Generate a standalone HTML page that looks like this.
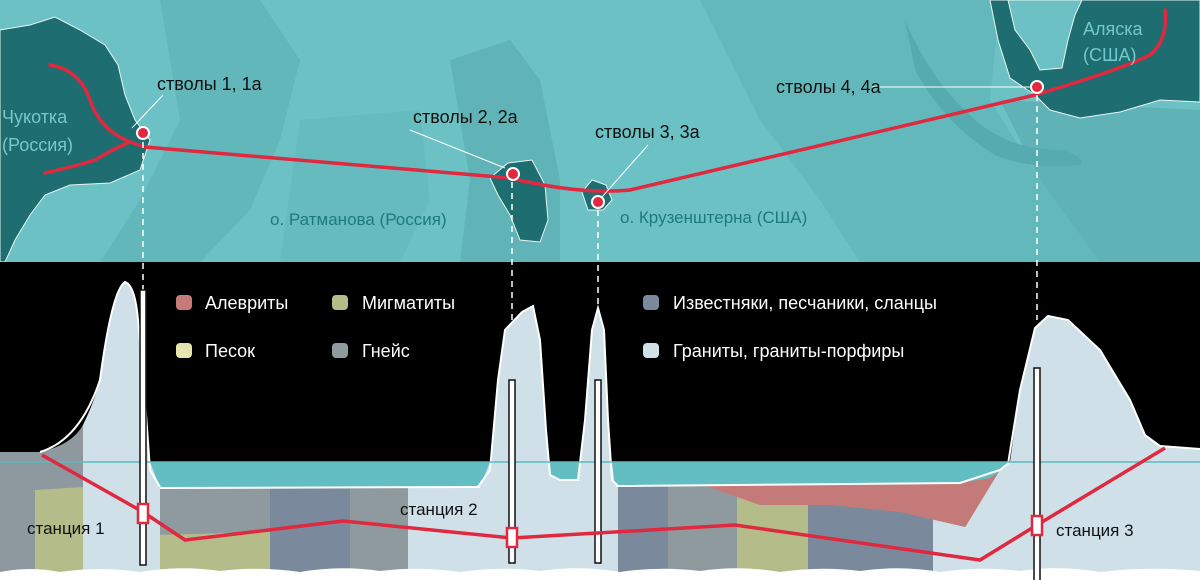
<!DOCTYPE html>
<html><head><meta charset="utf-8"><style>
html,body{margin:0;padding:0;background:#000;}
svg{display:block;font-family:"Liberation Sans","DejaVu Sans",sans-serif;}
</style></head><body>
<svg width="1200" height="580" viewBox="0 0 1200 580" xmlns="http://www.w3.org/2000/svg">
<!-- MAP -->
<rect x="0" y="0" width="1200" height="262" fill="#6cc1c5"/>
<path d="M160 0 L260 0 L300 60 L280 140 L250 210 L200 262 L100 262 L140 200 L180 120 Z" fill="#62b7bb"/>
<path d="M700 0 L1000 0 L990 100 L1040 180 L1100 262 L860 262 L820 200 L760 120 L720 40 Z" fill="#63b8bc"/>
<path d="M1000 100 L1200 110 L1200 262 L1100 262 L1040 180 Z" fill="#5fb2b6"/>
<path d="M450 60 L510 40 L540 80 L560 180 L560 262 L460 262 L470 180 Z" fill="#60b3b7"/>
<path d="M300 120 L420 110 L430 200 L400 262 L280 262 Z" fill="#66bbbf"/>
<path d="M905 20 Q930 80 975 120 Q1010 150 1060 150 Q1085 155 1080 165 Q1030 170 995 155 Q945 125 915 70 Z" fill="#55abaf"/>
<!-- Chukotka -->
<path d="M0 30 L30 25 L55 17 L80 30 L105 45 L118 65 L125 95 L135 120 L150 140 L140 170 L110 183 L70 185 L45 195 L30 215 L15 240 L5 262 L0 262 Z" fill="#1e6d70" stroke="#e8f4f4" stroke-width="1"/>
<!-- Alaska -->
<path d="M990 0 L1200 0 L1200 102 L1160 100 L1120 112 L1080 118 L1050 110 L1035 95 L1010 78 L998 40 Z" fill="#1e6d70" stroke="#e8f4f4" stroke-width="1"/>
<path d="M1008 0 L1015 30 L1030 50 L1040 70 L1062 68 L1068 40 L1075 15 L1082 0 Z" fill="#6cc1c5" stroke="#e8f4f4" stroke-width="1"/>
<!-- islands -->
<path d="M490 178 L508 163 L532 160 L545 185 L548 220 L540 242 L520 240 L510 215 L498 195 Z" fill="#1e6d70" stroke="#e8f4f4" stroke-width="1"/>
<path d="M582 192 L592 180 L606 185 L612 200 L603 210 L588 210 Z" fill="#1e6d70" stroke="#e8f4f4" stroke-width="1"/>
<!-- red route map -->
<g fill="none" stroke="#e0283e" stroke-width="3.5" stroke-linecap="round">
<path d="M50 65 Q80 70 90 100 Q100 130 130 142"/>
<path d="M45 173 Q80 165 95 160 Q115 148 130 142"/>
<path d="M130 142 L145 147 L510 178 Q580 195 630 190 L1035 95 Q1120 70 1150 55 Q1168 40 1165 10"/>
</g>
<!-- leader lines -->
<g stroke="#fff" stroke-width="1">
<line x1="163" y1="95" x2="132" y2="128"/>
<line x1="410" y1="130" x2="505" y2="168"/>
<line x1="648" y1="145" x2="602" y2="197"/>
<line x1="872" y1="87" x2="1030" y2="87"/>
</g>
<g fill="#e0283e" stroke="#fff" stroke-width="2">
<circle cx="143" cy="133" r="6"/><circle cx="513" cy="174" r="6"/><circle cx="598" cy="202" r="6"/><circle cx="1037" cy="87" r="6"/>
</g>
<g font-size="18" fill="#111">
<text x="157" y="90">стволы 1, 1а</text>
<text x="413" y="123">стволы 2, 2а</text>
<text x="595" y="138">стволы 3, 3а</text>
<text x="776" y="93">стволы 4, 4а</text>
</g>
<g font-size="18" fill="#72c9cb">
<text x="2" y="123">Чукотка</text><text x="2" y="151">(Россия)</text>
<text x="1083" y="35">Аляска</text><text x="1083" y="61">(США)</text>
</g>
<g font-size="17" fill="#1d7a7d">
<text x="270" y="225">о. Ратманова (Россия)</text>
<text x="620" y="223">о. Крузенштерна (США)</text>
</g>
<!-- BLACK BAND -->
<rect x="0" y="262" width="1200" height="200" fill="#000"/>
<!-- geology background -->
<rect x="0" y="462" width="1200" height="118" fill="#cfe0e8"/>
<path d="M157 487 L270 487 L270 580 L157 580 Z" fill="#8f9a9e"/>
<path d="M157 535 L270 532 L270 580 L157 580 Z" fill="#b4bc89"/>
<rect x="270" y="487" width="80" height="93" fill="#7a8a9c"/>
<rect x="350" y="487" width="58" height="93" fill="#8f9a9e"/>
<rect x="618" y="480" width="50" height="100" fill="#7a8a9c"/>
<rect x="668" y="480" width="69" height="100" fill="#8f9a9e"/>
<rect x="737" y="490" width="71" height="90" fill="#b4bc89"/>
<rect x="808" y="480" width="125" height="100" fill="#7a8a9c"/>
<path d="M615 485 L700 484 L760 505 L830 505 L900 512 L965 527 L985 525 L1000 480 L1008 465 L615 465 Z" fill="#c47a78"/>
<!-- sea water -->
<path d="M150 462 L490 462 L480 487 L160 488 Z" fill="#62bec3"/>
<path d="M545 462 L582 462 L580 480 L550 480 Z" fill="#62bec3"/>
<path d="M612 462 L1010 462 L1005 468 L990 478 L960 483 L615 487 Z" fill="#62bec3"/>
<!-- land profiles -->
<g fill="#cfe0e8" stroke="#fff" stroke-width="2">
<path d="M83 425 Q95 400 100 380 Q112 290 125 282 Q135 285 138 320 L145 400 L150 470 L160 488 L160 580 L83 580 Z" stroke="none"/>
<path d="M0 452 L40 452 Q72 445 83 425 L83 580 L0 580 Z" fill="#8d999f" stroke="none"/>
<path d="M35 490 L83 487 L83 580 L35 580 Z" fill="#b4bc89" stroke="none"/>
<path d="M0 490 L35 490 L35 580 L0 580 Z" fill="#8d999f" stroke="none"/>
<path d="M40 452 Q80 440 100 380 Q112 290 125 282 Q135 285 138 320 L145 400 L150 470 L160 487" fill="none"/>
<path d="M478 488 L490 470 L498 380 L505 330 L522 312 L533 306 L540 340 L546 430 L550 475 L560 480 L578 480 L585 420 L592 330 L598 308 L604 330 L608 420 L612 480 L618 486 L618 580 L478 580 Z" stroke="none"/>
<path d="M478 487 L490 470 L498 380 L505 330 L522 312 L533 306 L540 340 L546 430 L550 475 L560 480 L578 480 L585 420 L592 330 L598 308 L604 330 L608 420 L612 480 L618 486" fill="none"/>
<path d="M933 580 L1000 470 L1010 462 L1020 390 L1035 328 L1048 316 L1068 320 L1100 350 L1130 400 L1145 435 L1160 446 L1200 449 L1200 580 Z" stroke="none"/>
<path d="M1008 464 L1020 390 L1035 328 L1048 316 L1068 320 L1100 350 L1130 400 L1145 435 L1160 446 L1200 449" fill="none"/>
</g>
<path d="M160 488 L480 487" stroke="#fff" stroke-width="2" fill="none"/>
<path d="M616 486 L960 483 L1000 470 L1010 462" stroke="#fff" stroke-width="2" fill="none"/>
<line x1="0" y1="462" x2="1200" y2="462" stroke="#5fb9be" stroke-width="1.5"/>
<!-- bottom white wave -->
<path d="M0 580 L0 572 Q30 566 60 572 Q100 566 140 572 Q180 565 220 571 Q260 566 300 572 Q340 565 380 571 Q420 566 460 572 Q500 566 540 571 Q580 565 620 572 Q660 566 700 571 Q740 565 780 572 Q820 566 860 571 Q900 565 940 572 Q980 566 1020 571 Q1060 565 1100 572 Q1150 566 1200 571 L1200 580 Z" fill="#fff"/>
<!-- dashed lines -->
<g stroke="#fff" stroke-width="1.5" stroke-dasharray="6,5">
<line x1="143" y1="142" x2="143" y2="290"/>
<line x1="512" y1="182" x2="512" y2="325"/>
<line x1="598" y1="210" x2="598" y2="310"/>
<line x1="1037" y1="95" x2="1037" y2="320"/>
</g>
<!-- tubes -->
<g fill="#fff" stroke="#111" stroke-width="1.5">
<rect x="140" y="290" width="6" height="275"/>
<rect x="509" y="380" width="6" height="183"/>
<rect x="595" y="380" width="6" height="183"/>
<rect x="1034" y="368" width="6" height="215"/>
</g>
<!-- tunnel -->
<polyline points="42,455 143,512 185,540 343,521 512,538 735,525 980,560 1037,525 1165,448" fill="none" stroke="#e0283e" stroke-width="3.5"/>
<g fill="#fff" stroke="#e0283e" stroke-width="2.5">
<rect x="138" y="504" width="10" height="19"/>
<rect x="507" y="528" width="10" height="19"/>
<rect x="1032" y="516" width="10" height="19"/>
</g>
<g font-size="17" fill="#111">
<text x="27" y="534">станция 1</text>
<text x="400" y="515">станция 2</text>
<text x="1056" y="536">станция 3</text>
</g>
<!-- legend -->
<g>
<rect x="176" y="295" width="16" height="15" rx="4" fill="#c47a78"/>
<rect x="332" y="295" width="16" height="15" rx="4" fill="#b4bc89"/>
<rect x="643" y="295" width="16" height="15" rx="4" fill="#7a8a9c"/>
<rect x="176" y="343" width="16" height="15" rx="4" fill="#e7e3b0"/>
<rect x="332" y="343" width="16" height="15" rx="4" fill="#8f9a9e"/>
<rect x="643" y="343" width="16" height="15" rx="4" fill="#cfe0e8"/>
</g>
<g font-size="18" fill="#fff">
<text x="205" y="309">Алевриты</text>
<text x="362" y="309">Мигматиты</text>
<text x="673" y="309">Известняки, песчаники, сланцы</text>
<text x="205" y="357">Песок</text>
<text x="362" y="357">Гнейс</text>
<text x="673" y="357">Граниты, граниты-порфиры</text>
</g>
</svg>
</body></html>
